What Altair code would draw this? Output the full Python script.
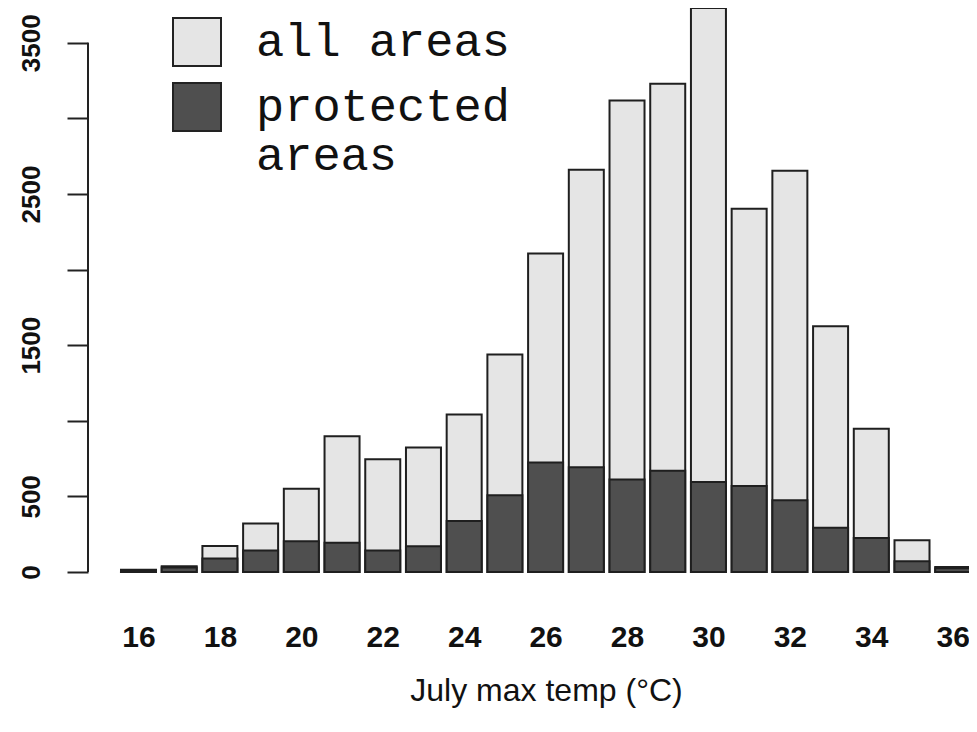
import altair as alt
import pandas as pd

temps = list(range(16, 37))
all_areas = [15, 38, 172, 320, 551, 897, 745, 824, 1042, 1439, 2106,
             2661, 3118, 3229, 3730, 2403, 2654, 1625, 948, 210, 33]
protected = [10, 30, 89, 143, 203, 194, 143, 170, 337, 507, 725,
             692, 611, 670, 595, 569, 474, 293, 225, 71, 25]
series_names = ["all areas", "protected areas"]
series_colors = ["#e5e5e5", "#4f4f4f"]
x_ticks = list(range(16, 37, 2))
y_ticks = list(range(0, 3501, 500))

rows = []
for t, v in zip(temps, all_areas):
    rows.append({"temp": t, "series": series_names[0], "value": v, "ord": 0})
for t, v in zip(temps, protected):
    rows.append({"temp": t, "series": series_names[1], "value": v, "ord": 1})
df = pd.DataFrame(rows)

axis_df = pd.DataFrame({"y0": [0], "y1": [3500]})

xscale = alt.Scale(domain=[14.76, 36.40], nice=False, zero=False, padding=0)
yscale = alt.Scale(domain=[0, 3730], nice=False, zero=True, padding=0)

bars = alt.Chart(df).mark_bar(size=35, stroke="#1f1f1f", strokeWidth=2, opacity=1).encode(
    x=alt.X("temp:Q", scale=xscale,
            axis=alt.Axis(values=x_ticks, title="July max temp (°C)", ticks=False, domain=False,
                          grid=False, labelFont="Liberation Sans",
                          labelFontSize=30, labelFontWeight="bold", labelColor="#111",
                          labelPadding=50, labelFlush=False, format="d",
                          titleFont="Liberation Sans", titleFontSize=32, titleFontWeight="normal",
                          titleColor="#111", titleX=458, titleY=103, titleAlign="center",
                          titleBaseline="top")),
    y=alt.Y("value:Q", scale=yscale, stack=None,
            axis=alt.Axis(values=y_ticks, title=None, grid=False, domain=False,
                          tickSize=21, tickWidth=2, tickColor="#222", format="d",
                          labelAngle=270, labelAlign="center", labelBaseline="bottom",
                          labelFont="Liberation Sans",
                          labelFontSize=26, labelFontWeight="bold", labelColor="#111",
                          labelPadding=23,
                          labelExpr="(datum.value == 0 || datum.value % 1000 == 500) ? datum.label : ''")),
    color=alt.Color("series:N", scale=alt.Scale(domain=series_names, range=series_colors),
                    legend=alt.Legend(title=None, orient="none", legendX=84, legendY=9,
                                      symbolType="square", symbolSize=2304,
                                      symbolStrokeColor="#222", symbolStrokeWidth=2,
                                      symbolOpacity=1,
                                      labelFont="Liberation Mono", labelFontSize=47,
                                      labelColor="#111", labelOffset=34, labelLimit=400,
                                      rowPadding=9,
                                      labelExpr="datum.label == 'protected areas' ? ['protected', 'areas'] : datum.label")),
    order=alt.Order("ord:Q"),
)

axis_line = alt.Chart(axis_df).mark_rule(color="#222", strokeWidth=2).encode(
    x=alt.value(0),
    y=alt.Y("y0:Q", scale=yscale),
    y2="y1:Q",
)

chart = alt.layer(bars, axis_line).properties(
    width=881, height=564,
    background="white",
    autosize=alt.AutoSizeParams(type="none"),
    padding={"left": 80, "top": 0, "right": 0, "bottom": 138},
).configure_view(strokeWidth=0, stroke="transparent")

chart.save("out.html", embed_options={"renderer": "svg", "actions": False})
